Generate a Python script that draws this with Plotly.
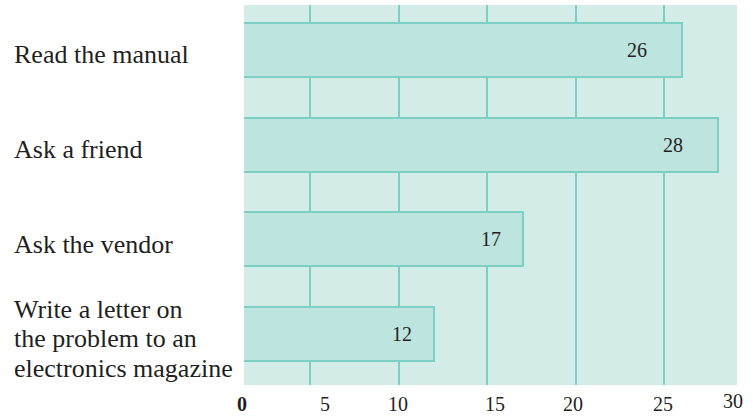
import plotly.graph_objects as go

categories = ["Read the manual", "Ask a friend", "Ask the vendor",
              "Write a letter on<br>the problem to an<br>electronics magazine"]
values = [26, 28, 17, 12]
grid_values = [5, 10, 15, 20, 25]
tick_labels = ["0", "5", "10", "15", "20", "25", "30"]
tick_label_pos = [1.13, 5.8, 9.95, 15.45, 19.85, 24.9, 28.85]

BG = "#d4ece8"
BAR = "#bde4df"
LINE = "#7ccfc3"
TXT = "#231f20"
SERIF = "Liberation Serif, Times New Roman, serif"
XMIN, XMAX = 1.243, 29.1

fig = go.Figure()
fig.add_trace(go.Bar(
    y=list(range(len(categories))), x=values, orientation="h",
    marker=dict(color=BAR, line=dict(color=LINE, width=2)),
    width=0.57, showlegend=False, hoverinfo="skip",
))

annotations = []
LS = 29.5
for i, (c, v) in enumerate(zip(categories, values)):
    annotations.append(dict(
        x=v, y=i, xref="x", yref="y", text=str(v), showarrow=False,
        xanchor="center", xshift=-45 if v >= 20 else -32,
        font=dict(family=SERIF, size=20, color=TXT),
    ))
    lines = c.split("<br>")
    n = len(lines)
    for j, ln in enumerate(lines):
        annotations.append(dict(
            x=-0.4706, y=i, xref="paper", yref="y", text=ln, showarrow=False,
            xanchor="left", align="left", yshift=-((j - (n - 1) / 2) * LS) - 5,
            font=dict(family=SERIF, size=26, color=TXT),
        ))

for k, (t, p) in enumerate(zip(tick_labels, tick_label_pos)):
    annotations.append(dict(
        x=(p - XMIN) / (XMAX - XMIN), y=0, xref="paper", yref="paper",
        text=t, showarrow=False, xanchor="center", yanchor="middle",
        yshift=-19 if t != tick_labels[-1] else -16,
        font=dict(family=SERIF, size=20, color=TXT,
                  weight="bold" if k == 0 else "normal"),
    ))

fig.update_layout(
    width=753, height=416,
    margin=dict(l=244, r=16, t=5, b=31),
    paper_bgcolor="white", plot_bgcolor=BG,
    bargap=0,
    xaxis=dict(range=[XMIN, XMAX], tickvals=grid_values, showticklabels=False,
               showgrid=True, gridcolor=LINE, gridwidth=2, zeroline=False,
               showline=False, ticks=""),
    yaxis=dict(range=[3.54, -0.475], showticklabels=False, showgrid=False,
               zeroline=False, ticks=""),
    annotations=annotations,
)
fig.write_html("out.html", config={"displayModeBar": False},
               post_script="document.body.style.margin='0';")
